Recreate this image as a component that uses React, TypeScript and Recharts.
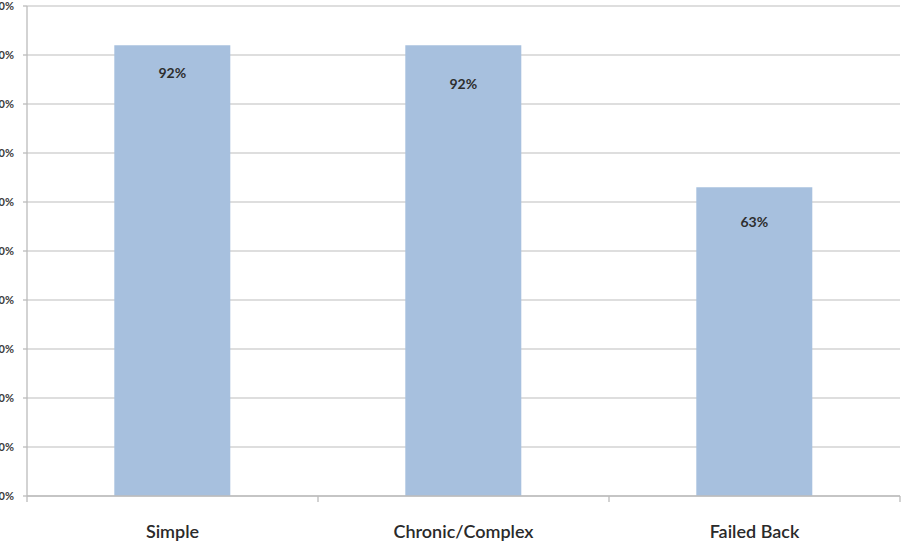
import React from 'react';
import { BarChart, Bar, XAxis, YAxis, CartesianGrid, LabelList } from 'recharts';

// Share of patients reporting improvement, by back-pain group
const categories = ['Simple', 'Chronic/Complex', 'Failed Back'];
const improvedPct = [92, 92, 63];
const yTicks = [0, 10, 20, 30, 40, 50, 60, 70, 80, 90, 100];

const data = categories.map((name, i) => ({ name, value: improvedPct[i] }));

// how far below each bar's top its value label sits
const labelDrop = [27, 38, 34];

const CHART_W = 910;
const CHART_H = 548;
const MARGIN = { top: 6, right: 10, left: 0, bottom: 0 };
const Y_AXIS_W = 27;

const BAR_FILL = '#a7c0de';
const GRID = '#d3d3d3';
const AXIS = '#bcbcbc';
const FONT = 'Lato, "Open Sans", sans-serif';

const ValueLabel = (props: any) => {
  const { x, y, width, value, index } = props;
  return (
    <text
      x={Number(x) + Number(width) / 2}
      y={Number(y) + labelDrop[index]}
      textAnchor="middle"
      dominantBaseline="central"
      fontFamily={FONT}
      fontSize={14}
      fontWeight={700}
      fill="#2e2e2e"
    >
      {`${value}%`}
    </text>
  );
};

// Category label plus short tick marks on the group boundaries (Excel style)
const CategoryTick = (props: any) => {
  const { x, y, payload, index } = props;
  const half =
    payload && typeof payload.offset === 'number' && payload.offset > 0
      ? payload.offset
      : (CHART_W - MARGIN.right - MARGIN.left - Y_AXIS_W) / categories.length / 2;
  const isLast = index === categories.length - 1;
  const top = Number(y);
  return (
    <g>
      <line x1={x - half} x2={x - half} y1={top} y2={top + 6} stroke={AXIS} strokeWidth={1.3} />
      {isLast && (
        <line x1={x + half} x2={x + half} y1={top} y2={top + 6} stroke={AXIS} strokeWidth={1.3} />
      )}
      <text
        x={x}
        y={top + 29}
        dy="0.71em"
        textAnchor="middle"
        fontFamily={FONT}
        fontSize={18}
        fontWeight={600}
        fill="#2a2a2a"
      >
        {payload.value}
      </text>
    </g>
  );
};

export default function App() {
  return (
    <div style={{ position: 'absolute', left: 0, top: 0, background: '#fff' }}>
      <BarChart
        width={CHART_W}
        height={CHART_H}
        data={data}
        margin={MARGIN}
        barCategoryGap="30%"
      >
        <CartesianGrid vertical={false} stroke={GRID} strokeWidth={1.3} />
        <XAxis
          dataKey="name"
          height={52}
          axisLine={{ stroke: AXIS, strokeWidth: 1.3 }}
          tickLine={false}
          tickSize={0}
          tickMargin={0}
          tick={CategoryTick}
        />
        <YAxis
          width={Y_AXIS_W}
          domain={[0, 100]}
          ticks={yTicks}
          tickFormatter={(v: number) => `${v}%`}
          axisLine={{ stroke: AXIS, strokeWidth: 1.3 }}
          tickLine={{ stroke: AXIS, strokeWidth: 1.3 }}
          tickSize={4}
          tickMargin={9}
          tick={{ fontFamily: FONT, fontSize: 11, fontWeight: 700, fill: '#3a3a3a' }}
        />
        <Bar dataKey="value" fill={BAR_FILL} isAnimationActive={false}>
          <LabelList dataKey="value" content={ValueLabel} />
        </Bar>
      </BarChart>
    </div>
  );
}
